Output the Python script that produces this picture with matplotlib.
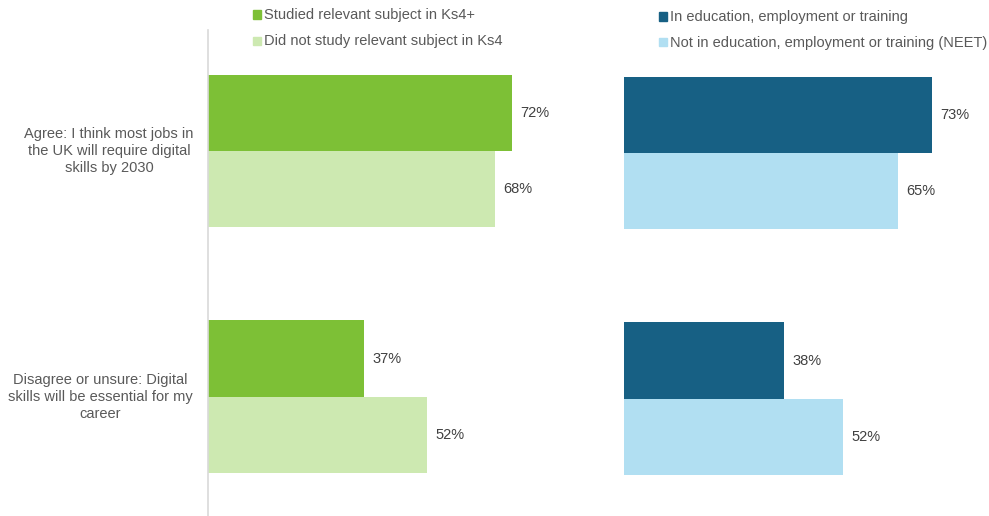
import matplotlib
matplotlib.use("Agg")
import matplotlib.pyplot as plt
from matplotlib.patches import Rectangle
from matplotlib.transforms import blended_transform_factory

plt.rcParams['font.family'] = ['Liberation Sans', 'DejaVu Sans']

categories = [
    "Agree: I think most jobs in\nthe UK will require digital\nskills by 2030",
    "Disagree or unsure: Digital\nskills will be essential for my\ncareer",
]
subject_labels = ["Studied relevant subject in Ks4+", "Did not study relevant subject in Ks4"]
studied = [72, 37]
not_studied = [68, 52]

neet_labels = ["In education, employment or training", "Not in education, employment or training (NEET)"]
in_eet = [73, 38]
neet = [65, 52]

green_dark = "#7dc036"
green_light = "#cde9b1"
blue_dark = "#176084"
blue_light = "#b1dff2"
text_col = "#595959"
value_col = "#404040"
FS = 10.5

W, H = 989, 516
fig = plt.figure(figsize=(W / 100, H / 100), dpi=100)

px_per_pct = 4.22
bar_h = 0.311


def make_axes(left_px, top_px, bottom_px, width_px):
    ax = fig.add_axes([left_px / W, 1 - bottom_px / H, width_px / W, (bottom_px - top_px) / H])
    ax.set_xlim(0, width_px / px_per_pct)
    ax.set_ylim(1.484, -0.492)
    for s in ["top", "right", "bottom", "left"]:
        ax.spines[s].set_visible(False)
    ax.set_xticks([])
    ax.set_yticks([])
    return ax


def draw_bars(ax, first, second, c1, c2):
    for y, a, b in zip(range(len(first)), first, second):
        ax.barh(y - bar_h / 2, a, height=bar_h, color=c1)
        ax.barh(y + bar_h / 2, b, height=bar_h, color=c2)
        ax.text(a + 1.9, y - bar_h / 2, f"{a}%", va="center", ha="left", fontsize=FS, color=value_col)
        ax.text(b + 1.9, y + bar_h / 2, f"{b}%", va="center", ha="left", fontsize=FS, color=value_col)


ax1 = make_axes(208, 30, 516, 380)
draw_bars(ax1, studied, not_studied, green_dark, green_light)
ax1.spines["left"].set_visible(True)
ax1.spines["left"].set_color("#d9d9d9")
ax1.spines["left"].set_linewidth(1.2)

# category labels, centred in the space left of the axis
label_trans = blended_transform_factory(fig.transFigure, ax1.transData)
label_centres_px = [109, 100]
for y, (cat, cx) in enumerate(zip(categories, label_centres_px)):
    ax1.text(cx / W, y, cat, transform=label_trans, ha="center", va="center",
             fontsize=FS, color=text_col, linespacing=1.24, multialignment="center")

ax2 = make_axes(624, 32, 518, 360)
draw_bars(ax2, in_eet, neet, blue_dark, blue_light)


def legend_block(x_px, y_px_list, colors, labels):
    for y_px, c, lab in zip(y_px_list, colors, labels):
        fig.patches.append(Rectangle(((x_px) / W, 1 - (y_px + 4) / H), 8 / W, 8 / H,
                                     transform=fig.transFigure, color=c, figure=fig))
        fig.text((x_px + 11) / W, 1 - y_px / H, lab, ha="left", va="center",
                 fontsize=FS, color=text_col)


legend_block(253, [14.5, 41], [green_dark, green_light], subject_labels)
legend_block(659, [16.5, 42.5], [blue_dark, blue_light], neet_labels)

fig.savefig("out.png", dpi=100)
